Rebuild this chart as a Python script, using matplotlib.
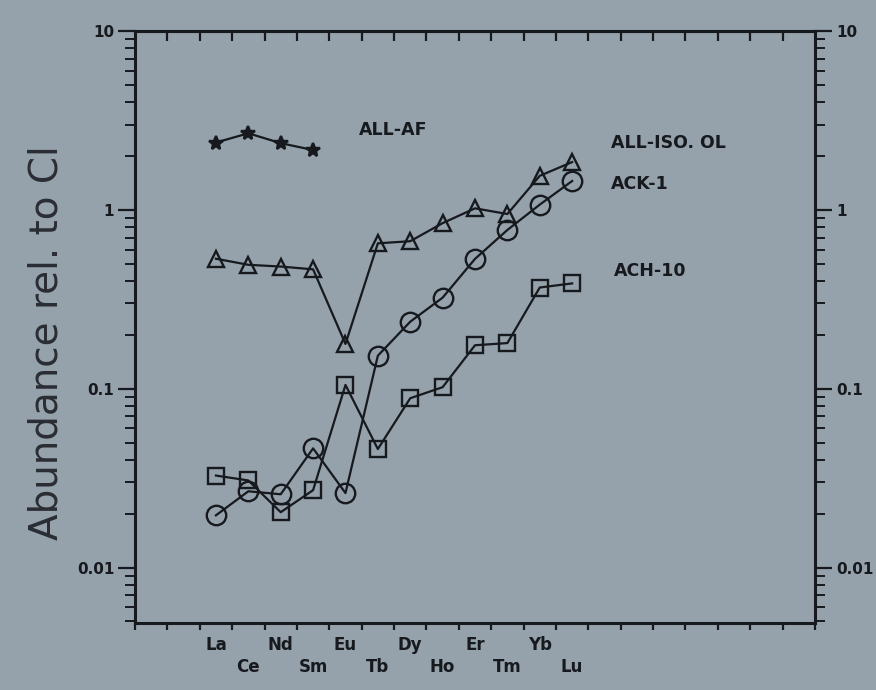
import numpy as np
import matplotlib
matplotlib.use("Agg")
import matplotlib.pyplot as plt
from matplotlib.ticker import FixedLocator, FixedFormatter, LogLocator, NullFormatter

# ---- data ----
elements = ["La", "Ce", "Nd", "Sm", "Eu", "Tb", "Dy", "Ho", "Er", "Tm", "Yb", "Lu"]
all_af = [2.38, 2.68, 2.36, 2.16]                       # La..Sm only
all_iso_ol = [0.533, 0.493, 0.482, 0.465, 0.178, 0.65, 0.668, 0.843, 1.02, 0.948, 1.55, 1.85]
ack_1 = [0.0196, 0.0267, 0.0257, 0.0464, 0.0261, 0.153, 0.237, 0.323, 0.532, 0.772, 1.07, 1.45]
ach_10 = [0.0327, 0.0307, 0.0204, 0.0271, 0.105, 0.046, 0.0885, 0.102, 0.175, 0.18, 0.368, 0.388]
y_ticks = [0.01, 0.1, 1, 10]
y_tick_labels = ["0.01", "0.1", "1", "10"]
series_names = ["ALL-AF", "ALL-ISO. OL", "ACK-1", "ACH-10"]

BG = "#95a1ab"
INK = "#16191d"

fig = plt.figure(figsize=(8.76, 6.9), dpi=100, facecolor=BG)
ax = fig.add_axes([135 / 876, 1 - 623 / 690, 680 / 876, 592 / 690])
ax.set_facecolor(BG)

xpos = np.arange(len(elements)) + 2.5

lkw = dict(color=INK, lw=1.6, markeredgewidth=1.7)
ax.plot(xpos[:len(all_af)], all_af, marker="*", ms=10, mfc=INK, mec=INK, **lkw)
ax.plot(xpos, all_iso_ol, marker="^", ms=12, mfc="none", mec=INK, **lkw)
ax.plot(xpos, ack_1, marker="o", ms=14, mfc="none", mec=INK, **lkw)
ax.plot(xpos, ach_10, marker="s", ms=12, mfc="none", mec=INK, **lkw)

ax.set_xlim(0, 21)
ax.set_yscale("log")
ax.set_ylim(0.0049, 10)

for s in ax.spines.values():
    s.set_linewidth(2.2)
    s.set_color(INK)

# x ticks: bottom outward, no labels
ax.set_xticks(range(0, 22))
ax.set_xticklabels([])
ax.tick_params(axis="x", which="major", direction="out", length=5, width=1.6,
               color=INK, bottom=True, top=False)
sec = ax.secondary_xaxis("top")
sec.set_xticks(range(1, 21))
sec.tick_params(direction="in", length=7, width=1.6, color=INK, labeltop=False)
sec.spines["top"].set_linewidth(2.2)
sec.spines["top"].set_color(INK)

# y ticks
ax.yaxis.set_major_locator(FixedLocator(y_ticks))
ax.yaxis.set_major_formatter(FixedFormatter(y_tick_labels))
ax.yaxis.set_minor_locator(LogLocator(base=10, subs=np.arange(2, 10)))
ax.yaxis.set_minor_formatter(NullFormatter())
ax.tick_params(axis="y", which="both", left=True, right=True, labelleft=True,
               labelright=True, direction="out", color=INK)
ax.tick_params(axis="y", which="major", length=12, width=1.6, pad=3,
               labelsize=11, labelcolor=INK)
ax.tick_params(axis="y", which="minor", length=7, width=1.4)
for lab in ax.get_yticklabels():
    lab.set_fontweight("bold")

# element labels (staggered in two rows)
for i, (x, el) in enumerate(zip(xpos, elements)):
    off = -16 if i % 2 == 0 else -32
    ax.annotate(el, xy=(x, 0), xycoords=("data", "axes fraction"),
                xytext=(0, off), textcoords="offset points",
                ha="center", va="center", fontsize=12, fontweight="bold",
                color=INK, annotation_clip=False)

# series names
name_pos = [(6.9, 2.78), (14.7, 2.36), (14.7, 1.40), (14.8, 0.453)]
for name, (x, y) in zip(series_names, name_pos):
    ax.text(x, y, name, ha="left", va="center", fontsize=12.5,
            fontweight="bold", color=INK)

fig.text(47 / 876, 1 - 343 / 690, "Abundance rel. to Cl", rotation=90,
         ha="center", va="center", fontsize=28, color="#2a2e34")

fig.savefig("out.png", dpi=100, facecolor=BG)
